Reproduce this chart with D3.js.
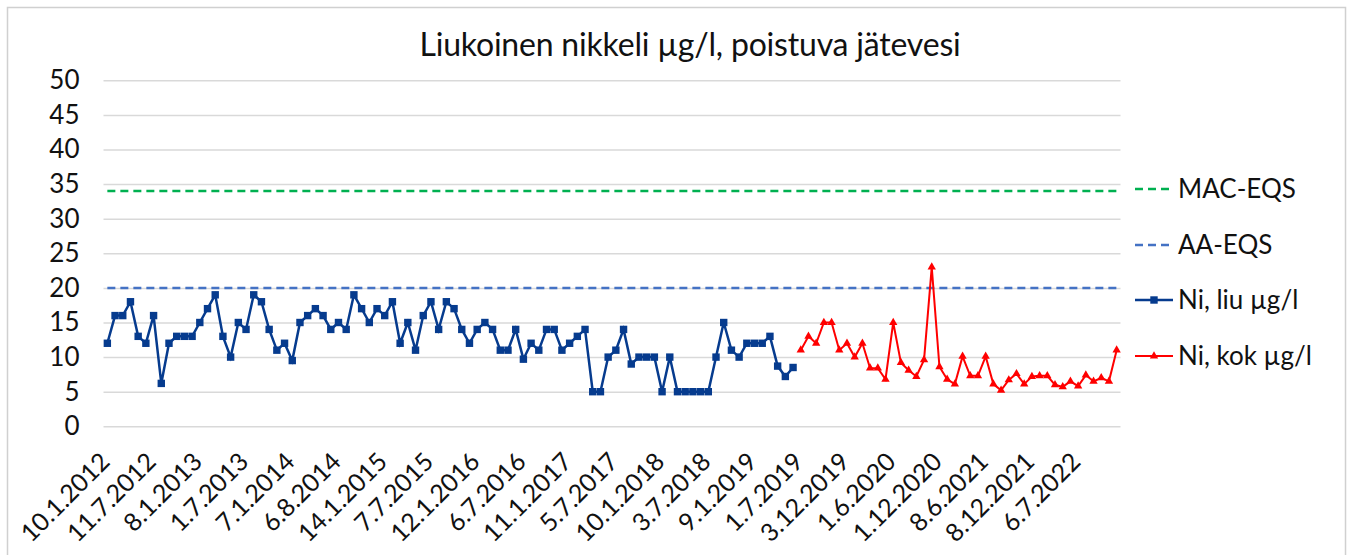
<!DOCTYPE html>
<html>
<head>
<meta charset="utf-8">
<script src="https://d3js.org/d3.v7.min.js"></script>
<style>
    body { margin: 0; background: #fff; }
    text { font-family: Lato, "Open Sans", sans-serif; fill: #111; }
</style>
</head>
<body>
<script>
    // Tick labels shown on the x axis (every 6th sampling date)
    let tickLabels = ["10.1.2012", "11.7.2012", "8.1.2013", "1.7.2013", "7.1.2014", "6.8.2014",
        "14.1.2015", "7.7.2015", "12.1.2016", "6.7.2016", "11.1.2017", "5.7.2017",
        "10.1.2018", "3.7.2018", "9.1.2019", "1.7.2019", "3.12.2019", "1.6.2020",
        "1.12.2020", "8.6.2021", "8.12.2021", "6.7.2022"];

    // Ni, liu µg/l (dissolved nickel)
    let niLiu = [12, 16, 16, 18, 13, 12, 16, 6.2, 12, 13, 13, 13, 15, 17, 19, 13, 10, 15, 14, 19,
        18, 14, 11, 12, 9.5, 15, 16, 17, 16, 14, 15, 14, 19, 17, 15, 17, 16, 18, 12, 15,
        11, 16, 18, 14, 18, 17, 14, 12, 14, 15, 14, 11, 11, 14, 9.7, 12, 11, 14, 14, 11,
        12, 13, 14, 5, 5, 10, 11, 14, 9, 10, 10, 10, 5, 10, 5, 5, 5, 5, 5, 10,
        15, 11, 10, 12, 12, 12, 13, 8.7, 7.2, 8.5];

    // Ni, kok µg/l (total nickel), continues after the dissolved series
    let niKok = [11, 13, 12, 15, 15, 11, 12, 10, 12, 8.4, 8.4, 6.8, 15, 9.2, 8.1, 7.2, 9.6, 23, 8.6, 6.8,
        6.1, 10.1, 7.3, 7.3, 10.1, 6.1, 5.2, 6.7, 7.6, 6.1, 7.2, 7.3, 7.3, 6.0, 5.7, 6.5, 5.8, 7.4,
        6.5, 7.0, 6.5, 11];

    let macEqs = 34;
    let aaEqs = 20;
    let yTicks = [0, 5, 10, 15, 20, 25, 30, 35, 40, 45, 50];

    let width = 1352, height = 555;
    let n = niLiu.length + niKok.length;

    let svg = d3.select("body").append("svg")
        .attr("width", width)
        .attr("height", height);

    // chart frame
    svg.append("rect")
        .attr("x", 7.5).attr("y", 7.5)
        .attr("width", 1338).attr("height", 560)
        .attr("fill", "none")
        .attr("stroke", "#d0d0d0")
        .attr("stroke-width", 1.5);

    let x = d3.scaleBand()
        .domain(d3.range(n))
        .range([103.5, 1120.5]);
    let cx = i => x(i) + x.bandwidth() / 2;

    let y = d3.scaleLinear()
        .domain([0, 50])
        .range([426.3, 80.3]);

    // gridlines + y labels
    let yAxis = svg.append("g")
        .attr("transform", "translate(103.5,0)")
        .call(d3.axisLeft(y).tickValues(yTicks).tickSize(-(1120.5 - 103.5)).tickPadding(24));
    yAxis.select(".domain").remove();
    yAxis.selectAll("line").attr("stroke", "#d9d9d9").attr("stroke-width", 1.5);
    yAxis.selectAll("text").attr("font-size", 26).attr("fill", "#111");

    // x axis labels, rotated
    let xAxis = svg.append("g")
        .attr("transform", "translate(0,426.3)")
        .call(d3.axisBottom(x).tickValues(d3.range(0, n, 6)).tickFormat(i => tickLabels[i / 6]).tickSize(0));
    xAxis.select(".domain").remove();
    xAxis.selectAll("text")
        .attr("font-size", 25)
        .attr("fill", "#111")
        .attr("text-anchor", "end")
        .attr("x", 0).attr("y", 0).attr("dy", 0)
        .attr("transform", "translate(4,37) rotate(-45)");

    // EQS reference lines
    let refs = [{v: macEqs, color: "#00b050"}, {v: aaEqs, color: "#4472c4"}];
    svg.selectAll(".ref")
        .data(refs)
        .join("line")
        .attr("class", "ref")
        .attr("x1", cx(0)).attr("x2", cx(n - 1))
        .attr("y1", d => y(d.v)).attr("y2", d => y(d.v))
        .attr("stroke", d => d.color)
        .attr("stroke-width", 2.5)
        .attr("stroke-dasharray", "8,5");

    let line = d3.line().x(d => cx(d.i)).y(d => y(d.v));

    let liu = niLiu.map((v, i) => ({i: i, v: v}));
    let kok = niKok.map((v, i) => ({i: i + niLiu.length, v: v}));

    svg.append("path")
        .datum(liu)
        .attr("d", line)
        .attr("fill", "none")
        .attr("stroke", "#063b8e")
        .attr("stroke-width", 2.5);
    svg.selectAll(".sq")
        .data(liu)
        .join("rect")
        .attr("class", "sq")
        .attr("x", d => cx(d.i) - 3.7).attr("y", d => y(d.v) - 3.7)
        .attr("width", 7.4).attr("height", 7.4)
        .attr("fill", "#063b8e");

    svg.append("path")
        .datum(kok)
        .attr("d", line)
        .attr("fill", "none")
        .attr("stroke", "#ff0000")
        .attr("stroke-width", 2);
    let tri = d3.symbol().type(d3.symbolTriangle).size(30);
    svg.selectAll(".tri")
        .data(kok)
        .join("path")
        .attr("class", "tri")
        .attr("transform", d => `translate(${cx(d.i)},${y(d.v)})`)
        .attr("d", tri)
        .attr("fill", "#ff0000");

    // title
    svg.append("text")
        .attr("x", 690).attr("y", 56)
        .attr("text-anchor", "middle")
        .attr("font-size", 32)
        .attr("letter-spacing", -0.2)
        .text("Liukoinen nikkeli µg/l, poistuva jätevesi");

    // legend
    let legend = [
        {name: "MAC-EQS", color: "#00b050", dash: "8,5", mark: null, w: 2.5},
        {name: "AA-EQS", color: "#4472c4", dash: "8,5", mark: null, w: 2.5},
        {name: "Ni, liu µg/l", color: "#063b8e", dash: null, mark: "sq", w: 2.5},
        {name: "Ni, kok µg/l", color: "#ff0000", dash: null, mark: "tri", w: 2}
    ];
    let lg = svg.selectAll(".lg")
        .data(legend)
        .join("g")
        .attr("class", "lg")
        .attr("transform", (d, i) => `translate(1135,${[189, 245, 300, 356][i]})`);
    lg.append("line")
        .attr("x1", 0).attr("x2", 38)
        .attr("stroke", d => d.color)
        .attr("stroke-width", d => d.w)
        .attr("stroke-dasharray", d => d.dash);
    lg.filter(d => d.mark === "sq").append("rect")
        .attr("x", 15.3).attr("y", -3.7).attr("width", 7.4).attr("height", 7.4)
        .attr("fill", d => d.color);
    lg.filter(d => d.mark === "tri").append("path")
        .attr("transform", "translate(19,0)")
        .attr("d", tri)
        .attr("fill", d => d.color);
    lg.append("text")
        .attr("x", 43).attr("dy", "0.35em")
        .attr("font-size", 26)
        .text(d => d.name);
</script>
</body>
</html>
